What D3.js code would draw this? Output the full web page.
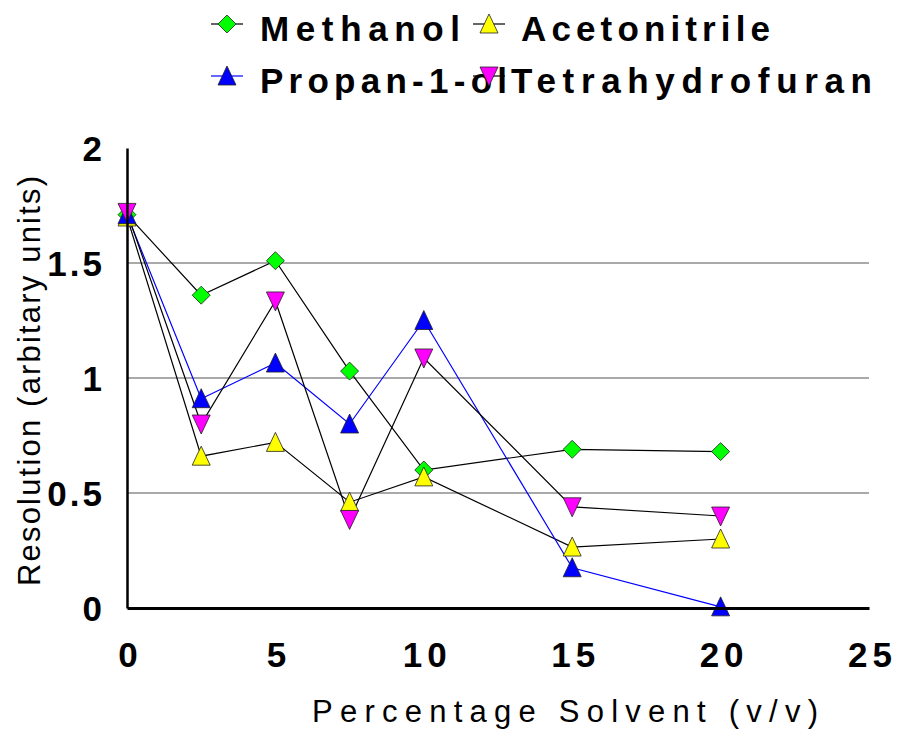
<!DOCTYPE html>
<html>
<head>
<meta charset="utf-8">
<script src="https://cdn.jsdelivr.net/npm/d3@7"></script>
<style>
  body { margin: 0; background: #fff; }
  svg text { font-family: "Liberation Sans", Arial, sans-serif; fill: #000; }
</style>
</head>
<body>
<svg width="899" height="730"></svg>
<script>
const xValues = [0, 2.5, 5, 7.5, 10, 15, 20];
const methanol = [1.71, 1.36, 1.51, 1.03, 0.60, 0.69, 0.68];
const acetonitrile = [1.70, 0.66, 0.72, 0.46, 0.57, 0.265, 0.30];
const propanol = [1.71, 0.91, 1.065, 0.80, 1.25, 0.175, 0.005];
const thf = [1.72, 0.80, 1.335, 0.385, 1.087, 0.44, 0.40];
const xTicks = [0, 5, 10, 15, 20, 25];
const yTicks = [0, 0.5, 1, 1.5, 2];

const seriesList = [
  { name: 'Methanol', values: methanol, line: '#000', fill: '#00ff00', shape: 'diamond' },
  { name: 'Acetonitrile', values: acetonitrile, line: '#000', fill: '#ffff00', shape: 'up' },
  { name: 'Propan-1-ol', values: propanol, line: '#0000ff', fill: '#0000ff', shape: 'up' },
  { name: 'Tetrahydrofuran', values: thf, line: '#000', fill: '#ff00ff', shape: 'down' }
];

const svg = d3.select('svg');
const margin = { top: 148, right: 30, bottom: 122, left: 127 };
const innerHeight = 730 - margin.top - margin.bottom;

const xScale = d3.scaleLinear().domain([0, 25]).range([0, 742]);
const yScale = d3.scaleLinear().domain([0, 2]).range([innerHeight, 0]);

const g = svg.append('g').attr('transform', `translate(${margin.left},${margin.top})`);

// gridlines (inner ones only)
g.selectAll('.grid').data(yTicks.filter(d => d > 0 && d < 2)).enter()
  .append('line')
  .attr('x1', 0).attr('x2', xScale(25))
  .attr('y1', d => yScale(d)).attr('y2', d => yScale(d))
  .attr('stroke', '#555').attr('stroke-width', 1.2);

const markerPath = shape => {
  if (shape === 'diamond') return 'M0,-9 L9,0 L0,9 L-9,0 Z';
  if (shape === 'up') return 'M0,-10 L9,9 L-9,9 Z';
  return 'M0,10 L9,-9 L-9,-9 Z';
};

const line = d3.line().x(d => xScale(d[0])).y(d => yScale(d[1]));

seriesList.forEach(s => {
  const pts = xValues.map((x, i) => [x, s.values[i]]);
  g.append('path').datum(pts)
    .attr('d', line)
    .attr('fill', 'none')
    .attr('stroke', s.line)
    .attr('stroke-width', 1.2);
});

seriesList.forEach(s => {
  const pts = xValues.map((x, i) => [x, s.values[i]]);
  g.selectAll(null).data(pts).enter()
    .append('path')
    .attr('transform', d => `translate(${xScale(d[0])},${yScale(d[1])})`)
    .attr('d', markerPath(s.shape))
    .attr('fill', s.fill)
    .attr('stroke', '#222')
    .attr('stroke-width', 0.8);
});

// axes
const yAxisG = g.append('g')
  .call(d3.axisLeft(yScale).tickValues(yTicks).tickFormat(d3.format('~g')).tickSize(0).tickPadding(22));
yAxisG.select('.domain').attr('stroke', '#000').attr('stroke-width', 2.5);
yAxisG.selectAll('text')
  .attr('font-size', 35).attr('font-weight', 'bold')
  .attr('font-family', '"Liberation Sans", Arial, sans-serif')
  .style('letter-spacing', '3px')
  .attr('fill', '#000').attr('dy', '0.35em');

const xAxisG = g.append('g').attr('transform', `translate(0,${innerHeight})`)
  .call(d3.axisBottom(xScale).tickValues(xTicks).tickSize(0));
xAxisG.select('.domain').attr('stroke', '#000').attr('stroke-width', 3);
xAxisG.selectAll('text')
  .attr('font-size', 35).attr('font-weight', 'bold')
  .attr('font-family', '"Liberation Sans", Arial, sans-serif')
  .style('letter-spacing', '5px')
  .attr('y', 59).attr('dy', 0).attr('dx', 3)
  .attr('fill', '#000');

svg.append('text')
  .attr('x', 565).attr('y', 722)
  .attr('text-anchor', 'middle')
  .attr('font-size', 31)
  .attr('textLength', 506).attr('lengthAdjust', 'spacing')
  .text('Percentage Solvent (v/v)');

svg.append('text')
  .attr('transform', 'translate(40,381) rotate(-90)')
  .attr('text-anchor', 'middle')
  .attr('font-size', 31)
  .attr('textLength', 410).attr('lengthAdjust', 'spacing')
  .text('Resolution (arbitary units)');

// legend
const legendItems = [
  { mx: 227, my: 24, tx: 260, ty: 41, len: 200 },
  { mx: 489, my: 24, tx: 521, ty: 41, len: 249 },
  { mx: 227, my: 76, tx: 260, ty: 93, len: 247 },
  { mx: 489, my: 76, tx: 511, ty: 93, len: 361 }
];
seriesList.forEach((s, i) => {
  const it = legendItems[i];
  svg.append('text')
    .attr('x', it.tx).attr('y', it.ty)
    .attr('font-size', 35).attr('font-weight', 'bold')
    .attr('textLength', it.len).attr('lengthAdjust', 'spacing')
    .text(s.name);
});
seriesList.forEach((s, i) => {
  const it = legendItems[i];
  const lg = svg.append('g').attr('transform', `translate(${it.mx},${it.my})`);
  lg.append('line').attr('x1', -16).attr('x2', 16).attr('y1', 0).attr('y2', 0)
    .attr('stroke', s.line).attr('stroke-width', 1.2);
  lg.append('path')
    .attr('d', markerPath(s.shape))
    .attr('fill', s.fill).attr('stroke', '#222').attr('stroke-width', 0.8);
});
</script>
</body>
</html>
